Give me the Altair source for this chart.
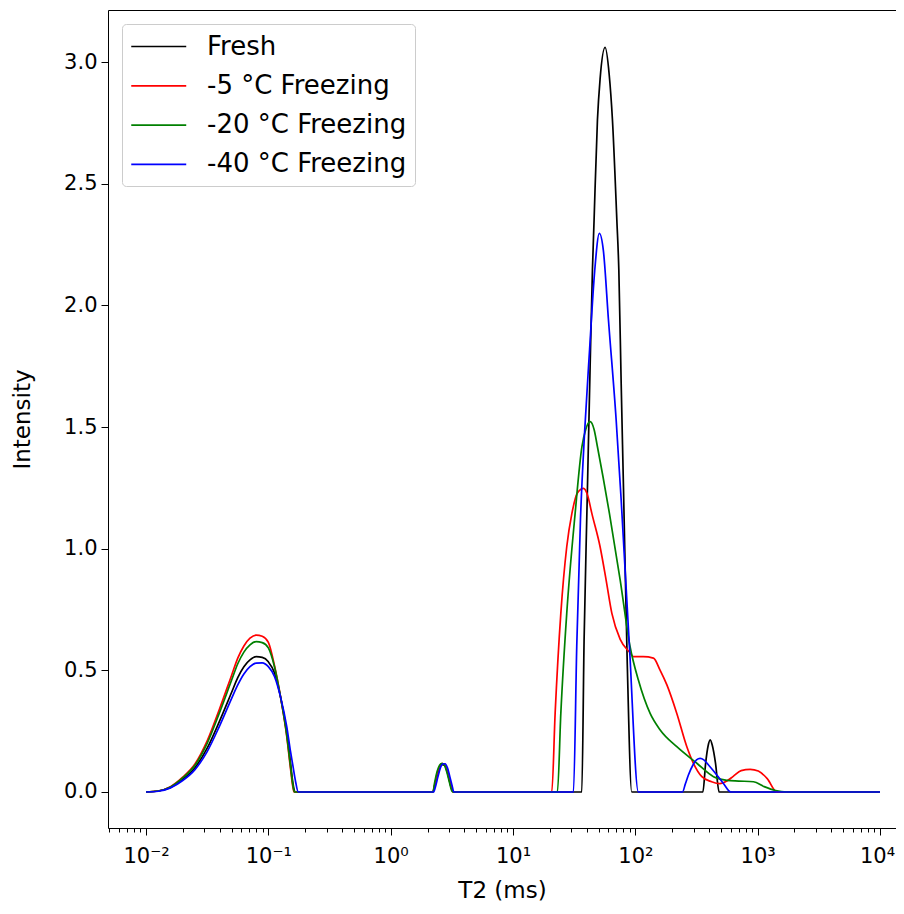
import altair as alt
import pandas as pd

series_names = ["Fresh", "-5 °C Freezing", "-20 °C Freezing", "-40 °C Freezing"]
series_colors = ["#000000", "#ff0000", "#008000", "#0000ff"]

fresh_t2 = [0.01, 0.01259, 0.01585, 0.01995, 0.02512, 0.03162, 0.03981, 0.05012, 0.05623, 0.0631,
            0.07079, 0.07943, 0.08913, 0.1, 0.1122, 0.1259, 0.1413, 0.1514, 0.1585, 0.1652,
            2.213, 2.291, 2.399, 2.512, 2.63, 2.754, 2.884, 3.02, 3.162, 3.24,
            36.5, 38.1, 40.4, 42.7, 44.6, 46.0, 49.0, 51.5, 56.6, 61.1, 65.0, 70.6, 73.3, 76.6, 80.0, 85.7, 93.5,
            356.5, 375.8, 393.6, 409.3, 426.6, 451.9, 484.2, 10000]
fresh_int = [0, 0.004, 0.019, 0.052, 0.100, 0.180, 0.290, 0.41, 0.47, 0.515,
             0.543, 0.556, 0.553, 0.535, 0.49, 0.39, 0.245, 0.125, 0.04, 0,
             0, 0.028, 0.07, 0.1, 0.112, 0.11, 0.087, 0.048, 0.01, 0,
             0, 0.62, 1.20, 1.75, 2.145, 2.351, 2.762, 2.93, 3.06, 2.95, 2.762, 2.351, 2.145, 1.68, 1.25, 0.55, 0,
             0, 0.12, 0.19, 0.214, 0.19, 0.12, 0, 0]

red_t2 = [0.01, 0.01259, 0.01585, 0.01995, 0.02512, 0.03162, 0.03981, 0.05012, 0.05623, 0.0631,
          0.07079, 0.07943, 0.08913, 0.1, 0.1122, 0.1259, 0.1413, 0.1514, 0.1585, 0.1622,
          2.213, 2.291, 2.399, 2.512, 2.63, 2.754, 2.884, 3.02, 3.162, 3.24,
          20.75, 22.1, 24.6, 27.5, 30.3, 33.7, 37.7, 40.7, 44.1, 51.5,
          57.7, 64.3, 75.2, 90.6, 96.4, 115.9, 140.6, 159.6, 181.1, 218.3,
          263.6, 298.5, 349.9, 420, 490, 560, 631, 733, 869, 1012,
          1197, 1435, 10000]
red_int = [0, 0.004, 0.022, 0.061, 0.115, 0.210, 0.340, 0.48, 0.55, 0.60,
           0.632, 0.645, 0.640, 0.615, 0.52, 0.39, 0.23, 0.10, 0.022, 0,
           0, 0.03, 0.075, 0.105, 0.117, 0.114, 0.09, 0.05, 0.012, 0,
           0, 0.323, 0.734, 1.008, 1.145, 1.23, 1.248, 1.22, 1.145, 1.008,
           0.871, 0.734, 0.627, 0.572, 0.556, 0.556, 0.55, 0.50, 0.44, 0.323,
           0.186, 0.118, 0.063, 0.042, 0.034, 0.045, 0.064, 0.088, 0.093, 0.086,
           0.055, 0, 0]

green_t2 = [0.01, 0.01259, 0.01585, 0.01995, 0.02512, 0.03162, 0.03981, 0.05012, 0.05623, 0.0631,
            0.07079, 0.07943, 0.08913, 0.1, 0.1122, 0.1259, 0.1413, 0.1514, 0.1585, 0.1633,
            2.213, 2.291, 2.399, 2.512, 2.63, 2.754, 2.884, 3.02, 3.162, 3.24,
            23.07, 24.6, 27.5, 32.2, 36.6, 39.3, 42.7, 46.0, 49.0, 61.4,
            75.2, 90.6, 105.9, 132.1, 159.6, 218.3, 318.4, 435.5, 559.8, 700,
            924.7, 1130, 1400, 1734, 10000]
green_int = [0, 0.004, 0.021, 0.058, 0.110, 0.200, 0.325, 0.46, 0.527, 0.575,
             0.605, 0.618, 0.614, 0.592, 0.515, 0.39, 0.235, 0.11, 0.03, 0,
             0, 0.04, 0.085, 0.11, 0.118, 0.11, 0.08, 0.04, 0.005, 0,
             0, 0.323, 0.734, 1.145, 1.419, 1.49, 1.522, 1.49, 1.419, 1.145,
             0.871, 0.597, 0.46, 0.323, 0.255, 0.186, 0.118, 0.063, 0.048, 0.045,
             0.042, 0.022, 0.006, 0, 0]

blue_t2 = [0.01, 0.01259, 0.01585, 0.01995, 0.02512, 0.03162, 0.03981, 0.05012, 0.05623, 0.0631,
           0.07079, 0.07943, 0.08913, 0.1, 0.1122, 0.1259, 0.1413, 0.1514, 0.1585, 0.166, 0.1758,
           2.239, 2.318, 2.427, 2.541, 2.661, 2.786, 2.917, 3.055, 3.199, 3.278,
           31.2, 33.2, 35.6, 38.5, 42.3, 46.5, 50.8, 54.8, 60.3, 69.7, 76.6, 89.5, 105.9,
           242.7, 257, 271.6, 295.1, 316.2, 338.8, 363.1, 398.1, 463.4, 524.8, 603.9, 10000]
blue_int = [0, 0.003, 0.017, 0.047, 0.092, 0.166, 0.270, 0.385, 0.44, 0.485,
            0.515, 0.530, 0.531, 0.515, 0.475, 0.39, 0.27, 0.17, 0.11, 0.05, 0,
            0, 0.02, 0.06, 0.097, 0.115, 0.116, 0.098, 0.06, 0.02, 0,
            0, 0.6, 1.12, 1.48, 1.82, 2.14, 2.296, 2.225, 1.94, 1.529, 1.2, 0.597, 0,
            0, 0.035, 0.07, 0.11, 0.132, 0.138, 0.132, 0.11, 0.07, 0.035, 0, 0]

x_major_ticks = [0.01, 0.1, 1, 10, 100, 1000, 10000]
x_minor_ticks = [0.005, 0.006, 0.007, 0.008, 0.009,
                 0.02, 0.03, 0.04, 0.05, 0.06, 0.07, 0.08, 0.09,
                 0.2, 0.3, 0.4, 0.5, 0.6, 0.7, 0.8, 0.9,
                 2, 3, 4, 5, 6, 7, 8, 9,
                 20, 30, 40, 50, 60, 70, 80, 90,
                 200, 300, 400, 500, 600, 700, 800, 900,
                 2000, 3000, 4000, 5000, 6000, 7000, 8000, 9000]
y_ticks = [0.0, 0.5, 1.0, 1.5, 2.0, 2.5, 3.0]

all_t2 = [fresh_t2, red_t2, green_t2, blue_t2]
all_int = [fresh_int, red_int, green_int, blue_int]
rows = []
for name, ts, vs in zip(series_names, all_t2, all_int):
    for t, v in zip(ts, vs):
        rows.append({"T2": t, "Intensity": v, "Series": name})
df = pd.DataFrame(rows)

FONT = "DejaVu Sans"
xscale = alt.Scale(type="log", domain=[0.004889, 13516], nice=False)
yscale = alt.Scale(domain=[-0.148, 3.214], nice=False, zero=False)
cscale = alt.Scale(domain=series_names, range=series_colors)

yaxis = alt.Axis(values=y_ticks, format=".1f", tickSize=7, labelFontSize=21, labelPadding=4,
                 title="Intensity", titleFontSize=23, titlePadding=29, titleFontWeight="normal",
                 grid=False)

label_expr = ("'10' + (datum.value < 1 ? '\u207b' : '') + "
              "['\u2070','\u00b9','\u00b2','\u00b3','\u2074'][abs(round(log(datum.value) / LN10))]")

x_major = alt.Axis(orient="bottom", values=x_major_ticks, labelExpr=label_expr, tickSize=7,
                   labelFontSize=21, labelPadding=10, labelFlush=False, labelOverlap=False,
                   labelOffset=alt.condition("datum.value > 5000", alt.value(-3), alt.value(0)),
                   title="T2 (ms)", titleFontSize=23, titlePadding=13, titleFontWeight="normal",
                   grid=False)
x_minor = alt.Axis(orient="bottom", values=x_minor_ticks, labels=False, tickSize=4,
                   domain=False, title=None, grid=False)
x_top = alt.Axis(orient="top", ticks=False, labels=False, domain=True, title=None, grid=False)

legend = alt.Legend(orient="none", legendX=14, legendY=14, title=None,
                    symbolType="M-1,0L3.15,0", symbolSize=702, symbolStrokeWidth=1.7,
                    labelFontSize=26, labelOffset=48, labelLimit=400, padding=8, rowPadding=11.3,
                    fillColor="rgba(255,255,255,0.8)", strokeColor="#cccccc", cornerRadius=4)


def line_layer(name, x_axis):
    return (
        alt.Chart(df)
        .transform_filter(alt.datum.Series == name)
        .mark_line(strokeWidth=1.7, interpolate="monotone")
        .encode(
            x=alt.X("T2:Q", scale=xscale, axis=x_axis),
            y=alt.Y("Intensity:Q", scale=yscale, axis=yaxis),
            color=alt.Color("Series:N", scale=cscale, legend=legend),
        )
    )


chart = (
    alt.layer(
        line_layer(series_names[0], x_major),
        line_layer(series_names[1], x_minor),
        line_layer(series_names[2], x_top),
        line_layer(series_names[3], None),
    )
    .resolve_axis(x="independent")
    .properties(
        width=788,
        height=818,
        autosize=alt.AutoSizeParams(type="none"),
        padding={"left": 100, "top": 2, "right": 0, "bottom": 74},
    )
    .configure_view(strokeWidth=0)
    .configure_axis(labelFont=FONT, titleFont=FONT, labelColor="#000000", titleColor="#000000",
                    domainColor="#000000", tickColor="#000000", domainWidth=1, tickWidth=1)
    .configure_legend(labelFont=FONT, labelColor="#000000")
)

chart.save("out.html", embed_options={"renderer": "svg", "actions": False})
